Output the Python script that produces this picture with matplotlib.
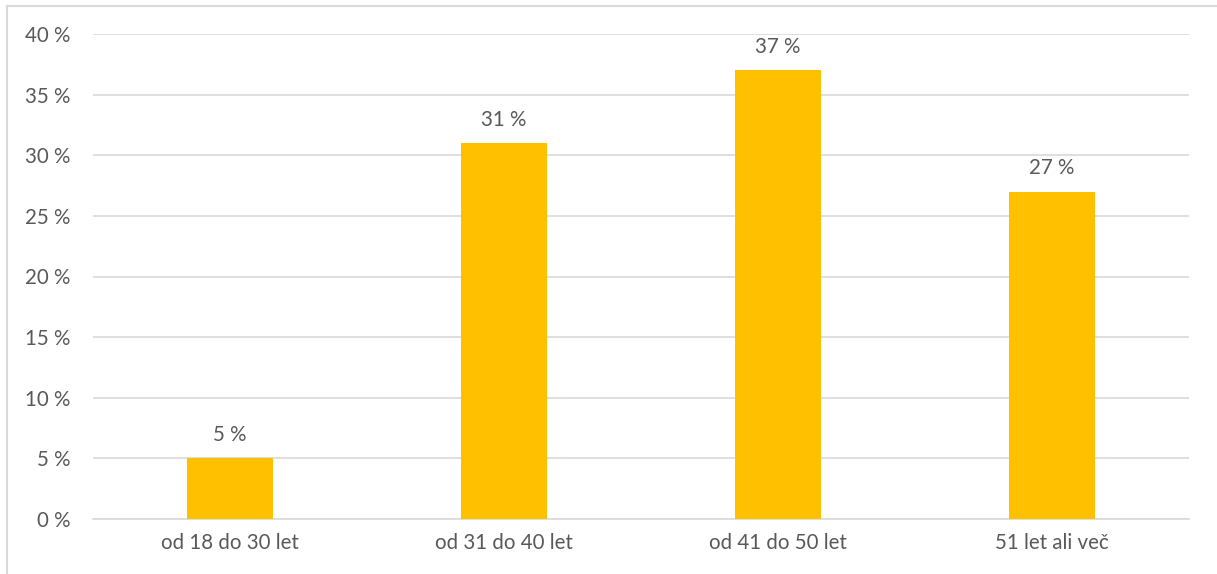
import matplotlib.pyplot as plt
from matplotlib.lines import Line2D

categories = ["od 18 do 30 let", "od 31 do 40 let", "od 41 do 50 let", "51 let ali več"]
values = [5, 31, 37, 27]
yticks = [0, 5, 10, 15, 20, 25, 30, 35, 40]

plt.rcParams['font.family'] = ['Lato', 'DejaVu Sans']
txt = '#595959'
grid = '#d9d9d9'
fs = 14.8

W, H = 1217, 574
fig = plt.figure(figsize=(W / 100, H / 100), dpi=100)
ax = fig.add_axes([93 / W, 1 - 519 / H, (1189 - 93) / W, (519 - 34) / H])

x = range(len(categories))
bars = ax.bar(x, values, width=0.314, color='#FFC000', zorder=3)
for b, v in zip(bars, values):
    ax.text(b.get_x() + b.get_width() / 2, v + 1.1, f"{v} %", ha='center', va='bottom',
            fontsize=fs, color=txt)

ax.set_xlim(-0.5, len(categories) - 0.5)
ax.set_ylim(0, 40)
ax.set_yticks(yticks)
ax.set_yticklabels([f"{t} %" for t in yticks])
ax.set_xticks(list(x))
ax.set_xticklabels(categories)
ax.tick_params(axis='both', length=0, labelsize=fs, labelcolor=txt)
ax.tick_params(axis='y', pad=16.5)
ax.tick_params(axis='x', pad=10)
ax.yaxis.grid(True, color=grid, linewidth=1.2, zorder=0)
for s in ['top', 'right', 'left']:
    ax.spines[s].set_visible(False)
ax.spines['bottom'].set_color(grid)
ax.spines['bottom'].set_linewidth(1.2)

# light outer frame
fig.add_artist(Line2D([6.5 / W, 6.5 / W], [0, 1 - 5.5 / H], color=grid, linewidth=1.5,
                      transform=fig.transFigure))
fig.add_artist(Line2D([6.5 / W, 1], [1 - 5.5 / H, 1 - 5.5 / H], color=grid, linewidth=1.5,
                      transform=fig.transFigure))

fig.savefig('out.png', dpi=100)
